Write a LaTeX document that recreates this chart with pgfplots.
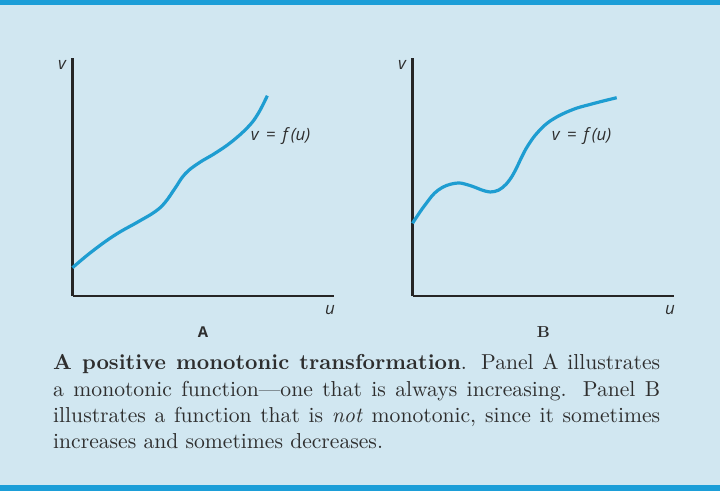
\documentclass[border=0pt]{standalone}
\usepackage{fontspec}
\setmainfont{lmroman10-regular.otf}[BoldFont=lmroman10-bold.otf, ItalicFont=lmroman10-italic.otf]
\newfontfamily\labelfont{Open Sans}
\usepackage{pgfplots}
\pgfplotsset{compat=1.18}
\definecolor{panelbg}{HTML}{D1E7F1}
\definecolor{barblue}{HTML}{1B9ED8}
\definecolor{curveblue}{HTML}{1E9DD1}
\definecolor{inkgray}{HTML}{262626}
\definecolor{textgray}{HTML}{2E2E2E}

\pgfplotsset{
  panel/.style={
    scale only axis,
    width=261bp, height=238bp,
    xmin=0, xmax=261, ymin=0, ymax=238,
    axis lines=left,
    axis line style={-, line width=2.2bp, inkgray},
    xtick=\empty, ytick=\empty,
    clip=false,
    anchor=south west,
  },
  curve/.style={curveblue, line width=3.2bp, smooth, tension=0.7, no marks},
}
\tikzset{lbl/.style={font=\labelfont\itshape\fontsize{17}{20}\selectfont, text=textgray}}

\begin{document}
\begin{tikzpicture}
  \useasboundingbox (0,0) rectangle (720bp,-491bp);
  \fill[panelbg] (0,0) rectangle (720bp,-491bp);
  \fill[barblue] (0,0) rectangle (720bp,-5bp);
  \fill[barblue] (0,-485bp) rectangle (720bp,-491bp);

  % panel A: always increasing
  \begin{axis}[panel, at={(72.5bp,-296bp)}]
    \addplot[curve] coordinates {
      (0,28.3) (19.2,44.3) (42.5,61) (65.8,74.3) (82.5,84.3) (92.5,93.5)
      (102.5,107.7) (112.5,122) (125.8,132.7) (142.5,142.7) (159.2,154.3)
      (175.8,169.3) (185.8,182.7) (194.8,200.3)
    };
    \node[lbl] at (axis cs:-10.5,231) {v};
    \node[lbl] at (axis cs:257.5,-14) {u};
    \node[lbl] at (axis cs:208,160) {v \,=\, f\,(u)};
    \node[font=\labelfont\bfseries\fontsize{15}{17}\selectfont, text=textgray] at (axis cs:130.5,-36) {A};
  \end{axis}

  % panel B: not monotonic
  \begin{axis}[panel, at={(412.5bp,-296bp)}]
    \addplot[curve] coordinates {
      (0,72.7) (12.5,91) (25.8,106) (42.5,112.7) (55.8,111) (72.5,105)
      (82,104.5) (90,108.5) (97,116) (103,126) (109,138.5) (115.8,151)
      (125.8,164.3) (139.2,176) (159.2,186) (179.2,192) (204.2,198.3)
    };
    \node[lbl] at (axis cs:-10.5,231) {v};
    \node[lbl] at (axis cs:257.5,-14) {u};
    \node[lbl] at (axis cs:169,160) {v \,=\, f\,(u)};
    \node[font=\bfseries\fontsize{16}{18}\selectfont, text=textgray] at (axis cs:131,-36) {B};
  \end{axis}

  \node[anchor=north west, inner sep=0pt, text width=607bp, align=justify,
        font=\fontsize{21.7}{26.5}\selectfont, text=textgray]
    at (53bp,-354bp)
    {\textbf{A positive monotonic transformation}.  Panel A illustrates\linebreak
     a monotonic function---one that is always increasing.  Panel B\linebreak
     illustrates a function that is \textit{not} monotonic, since it sometimes\linebreak
     increases and sometimes decreases.};
\end{tikzpicture}
\end{document}
